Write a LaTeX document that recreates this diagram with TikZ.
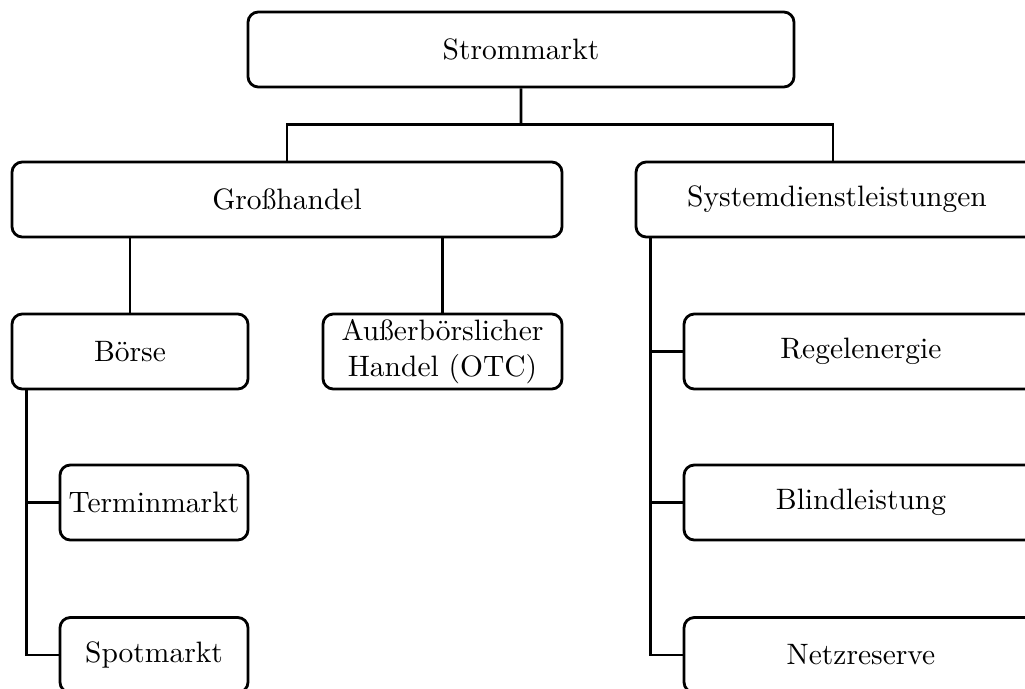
\documentclass[tikz,border=0pt]{standalone}
\usepackage{fontspec}
\usetikzlibrary{calc}
\newlength{\pxu}
\setlength{\pxu}{0.339pt}
\begin{document}
\begin{tikzpicture}[x=0.339pt, y=-0.339pt,
  box/.style={draw, rounded corners=3.5pt, line width=0.95pt, inner sep=0pt,
    minimum height=75\pxu, align=center},
  link/.style={line width=0.95pt}]
\useasboundingbox (0,0) rectangle (1025,689);

% top level
\node[box, minimum width=546\pxu] (strom) at (521,49.5) {Strommarkt};

% second level
\node[box, minimum width=550\pxu] (gross) at (287,199.5) {Großhandel};
\node[box, minimum width=402\pxu] (sys) at (837,199.5) {Systemdienstleistungen};

% wholesale branch
\node[box, minimum width=236\pxu] (boerse) at (130,351.5) {Börse};
\node[box, minimum width=239\pxu] (otc) at (442.5,351.5) {Außerbörslicher\\Handel (OTC)};
\node[box, minimum width=188\pxu] (termin) at (154,502.5) {Terminmarkt};
\node[box, minimum width=188\pxu] (spot) at (154,655) {Spotmarkt};

% ancillary services branch
\node[box, minimum width=354\pxu] (regel) at (861,351.5) {Regelenergie};
\node[box, minimum width=354\pxu] (blind) at (861,502.5) {Blindleistung};
\node[box, minimum width=354\pxu] (netz) at (861,655) {Netzreserve};

% connectors
\coordinate (bus) at ($(strom.south)!0.5!(strom.south |- gross.north)$);
\draw[link] (strom.south) -- (bus);
\draw[link] (gross.north) |- (bus) -| ($(sys.north)+(-4,0)$);

\draw[link] (gross.south -| boerse.north) -- (boerse.north);
\draw[link] (gross.south -| otc.north) -- (otc.north);

\coordinate (bs) at ($(boerse.south west)+(16,0)$);
\draw[link] (bs) |- (termin.west);
\draw[link] (bs) |- (spot.west);

\coordinate (ss) at ($(sys.south west)+(16,0)$);
\draw[link] (ss) |- (regel.west);
\draw[link] (ss) |- (blind.west);
\draw[link] (ss) |- (netz.west);
\end{tikzpicture}
\end{document}
